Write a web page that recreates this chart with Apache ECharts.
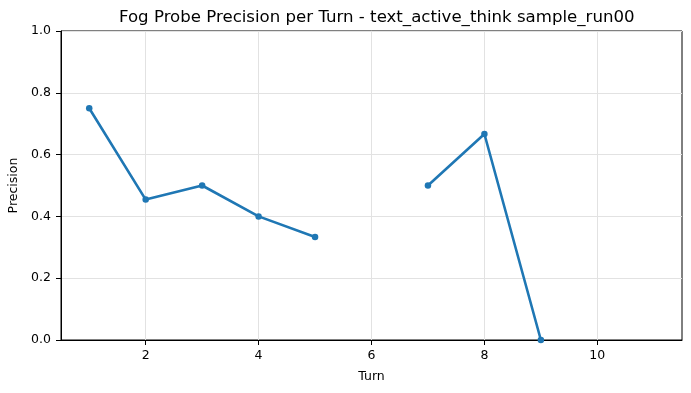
<!DOCTYPE html>
<html>
<head>
<meta charset="utf-8">
<script src="https://cdn.jsdelivr.net/npm/echarts@6/dist/echarts.min.js"></script>
<style>html,body{margin:0;padding:0;background:#fff;}#c{width:691px;height:393px;}</style>
</head>
<body>
<div id="c"></div>
<script>
const turns = [1, 2, 3, 4, 5, 6, 7, 8, 9, 10, 11];
const precision = [0.75, 0.4545, 0.5, 0.4, 0.3333, null, 0.5, 0.6667, 0.0, null, null];
const xTicks = [2, 4, 6, 8, 10];
const yTicks = [0, 0.2, 0.4, 0.6, 0.8, 1.0];
const titleText = 'Fog Probe Precision per Turn - text_active_think sample_run00';

const font = 'DejaVu Sans';
const chart = echarts.init(document.getElementById('c'), null, {renderer: 'canvas'});
chart.setOption({
  animation: false,
  backgroundColor: '#fff',
  title: {
    text: titleText, left: 114, top: 4,
    textStyle: {fontFamily: font, fontSize: 16.6, fontWeight: 'normal', color: '#000'}
  },
  grid: {left: 61, right: 9, top: 31, bottom: 53, containLabel: false, outerBoundsMode: 'none',
         show: true, borderColor: '#000', borderWidth: 1, backgroundColor: 'transparent'},
  xAxis: {
    type: 'value', min: 0.5, max: 11.5,
    name: 'Turn', nameLocation: 'middle', nameGap: 30,
    nameTextStyle: {fontFamily: font, fontSize: 12.5, color: '#000'},
    axisLine: {show: true, onZero: false, lineStyle: {color: '#000', width: 1}},
    axisTick: {show: true, inside: false, length: 5, customValues: xTicks, lineStyle: {color: '#000'}},
    axisLabel: {customValues: xTicks, fontFamily: font, fontSize: 12.5, color: '#000', margin: 9},
    splitLine: {show: true, lineStyle: {color: '#e2e2e2', width: 1}}
  },
  yAxis: {
    type: 'value', min: 0, max: 1, interval: 0.2,
    name: 'Precision', nameLocation: 'middle', nameGap: 39,
    nameTextStyle: {fontFamily: font, fontSize: 12.5, color: '#000'},
    axisLine: {show: true, lineStyle: {color: '#000', width: 1}},
    axisTick: {show: true, inside: false, length: 5, lineStyle: {color: '#000'}},
    axisLabel: {fontFamily: font, fontSize: 12.5, color: '#000', margin: 10, formatter: v => v.toFixed(1)},
    splitLine: {show: true, lineStyle: {color: '#e2e2e2', width: 1}}
  },
  series: [{
    type: 'line',
    data: turns.map((t, i) => [t, precision[i]]),
    connectNulls: false,
    symbol: 'circle', symbolSize: 6.5, showSymbol: true,
    itemStyle: {color: '#1f77b4'},
    lineStyle: {color: '#1f77b4', width: 2.6},
    clip: true
  }]
});
</script>
</body>
</html>
